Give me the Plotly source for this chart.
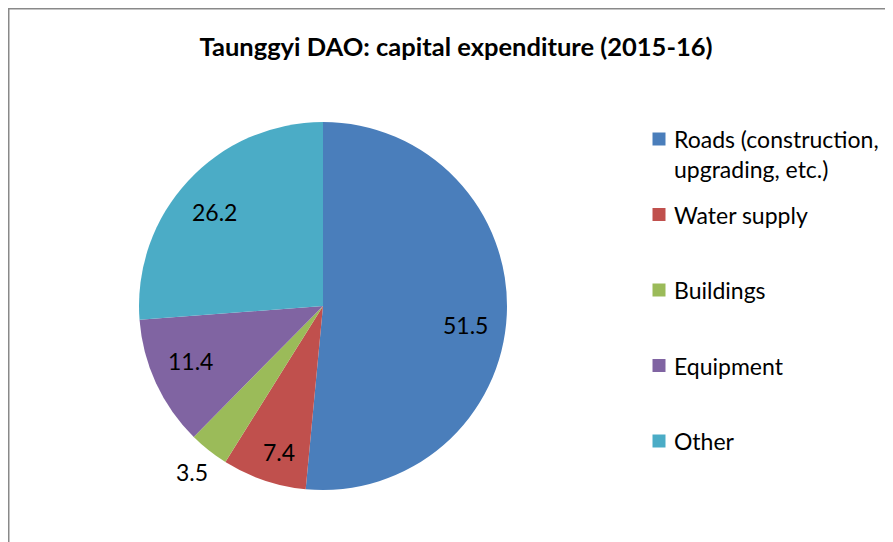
import math
import plotly.graph_objects as go

categories = ["Roads (construction,<br>upgrading, etc.)", "Water supply", "Buildings", "Equipment", "Other"]
values = [51.5, 7.4, 3.5, 11.4, 26.2]
colors = ["#4A7EBB", "#C0504D", "#9BBB59", "#8064A2", "#4BACC6"]
title_text = "Taunggyi DAO: capital expenditure (2015-16)"

# label placement style: radial distance (fraction of radius) and small angular nudge (deg)
label_radius = [0.78, 0.83, 1.15, 0.78, 0.78]
label_nudge = [5.0, -2.0, 0.0, 2.3, -2.0]

W, H = 893, 542
FONT = "Lato"

# pie geometry (figure pixels)
CX, CY, R = 315, 298, 184


def px(x):
    return x / W


def py(y):
    return 1 - y / H


fig = go.Figure(
    go.Pie(
        labels=[c.replace("<br>", " ") for c in categories],
        values=values,
        sort=False,
        direction="clockwise",
        rotation=0,
        marker=dict(colors=colors, line=dict(width=0)),
        textinfo="none",
        domain=dict(x=[px(CX - R), px(CX + R)], y=[py(CY + R), py(CY - R)]),
        hoverinfo="label+value",
        showlegend=False,
    )
)

annotations = []
shapes = []

# data labels, placed around the middle angle of each slice
total = sum(values)
cum = 0.0
for v, f, d in zip(values, label_radius, label_nudge):
    mid = (cum + v / 2) / total * 2 * math.pi + math.radians(d)
    cum += v
    x = CX + f * R * math.sin(mid)
    y = CY - f * R * math.cos(mid)
    annotations.append(
        dict(
            x=px(x), y=py(y), xref="paper", yref="paper",
            text=f"{v:.1f}", showarrow=False,
            xanchor="center", yanchor="middle",
            font=dict(family=FONT, size=23, color="#000000"),
        )
    )

# legend (Excel style: marker aligned with the first text line, fixed slot per entry)
LEG_X, LEG_Y0, LEG_STEP, MK = 651, 131, 75.5, 13
LEG_FS = 23
for i, (c, col) in enumerate(zip(categories, colors)):
    yc = LEG_Y0 + i * LEG_STEP
    shapes.append(
        dict(
            type="rect", xref="paper", yref="paper",
            x0=px(LEG_X - MK / 2), x1=px(LEG_X + MK / 2),
            y0=py(yc + MK / 2), y1=py(yc - MK / 2),
            fillcolor=col, line=dict(width=0),
        )
    )
    annotations.append(
        dict(
            x=px(LEG_X + 13), y=py(yc - LEG_FS * 0.65 - 1), xref="paper", yref="paper",
            text=c, showarrow=False, align="left",
            xanchor="left", yanchor="top",
            font=dict(family=FONT, size=LEG_FS, color="#000000"),
        )
    )

# chart frame
shapes.append(
    dict(
        type="rect", xref="paper", yref="paper",
        x0=px(0.75), x1=1.1, y0=-0.1, y1=py(0.75),
        line=dict(color="#898989", width=1.5),
        fillcolor="rgba(0,0,0,0)", layer="above",
    )
)

fig.update_layout(
    width=W,
    height=H,
    margin=dict(l=0, r=0, t=0, b=0),
    paper_bgcolor="white",
    plot_bgcolor="white",
    title=dict(
        text="<b>" + title_text + "</b>",
        x=px(448), xanchor="center",
        y=py(39), yanchor="middle",
        font=dict(family=FONT, size=25.5, color="#000000"),
    ),
    showlegend=False,
    annotations=annotations,
    shapes=shapes,
)

fig.write_html("out.html")
